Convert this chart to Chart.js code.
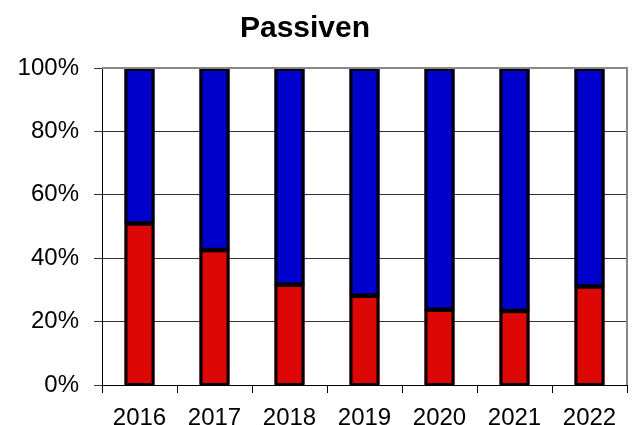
<!DOCTYPE html>
<html>
<head>
<meta charset="utf-8">
<script src="https://cdn.jsdelivr.net/npm/chart.js@4"></script>
<style>
  html, body { margin: 0; padding: 0; background: #fff; }
  #wrap { width: 637px; height: 425px; }
</style>
</head>
<body>
<div id="wrap"><canvas id="passivenChart" width="637" height="425"></canvas></div>
<script>
// Daten (Anteile in %)
const years = ['2016', '2017', '2018', '2019', '2020', '2021', '2022'];
const fremdkapital = [51.2, 42.8, 31.9, 28.4, 24.0, 23.6, 31.3];
const eigenkapital = [48.8, 57.2, 68.1, 71.6, 76.0, 76.4, 68.7];
const yTicks = [0, 20, 40, 60, 80, 100];
const chartTitle = 'Passiven';

const FONT = '"Liberation Sans", Arial, sans-serif';

// Titel, grauer Rahmen oben/rechts und schwarze Balkenkanten
const framePlugin = {
    id: 'frame',
    afterDatasetsDraw(chart) {
        const { ctx } = chart;
        ctx.save();
        ctx.strokeStyle = '#000';
        ctx.lineWidth = 3;
        chart.data.datasets.forEach((ds, i) => {
            chart.getDatasetMeta(i).data.forEach(bar => {
                const w = bar.width;
                const top = Math.min(bar.y, bar.base);
                const h = Math.abs(bar.base - bar.y);
                ctx.strokeRect(bar.x - w / 2 + 1.5, top + 1.5, w - 3, h - 1.5);
            });
        });
        ctx.restore();
    },
    afterDraw(chart) {
        const { ctx, chartArea } = chart;
        ctx.save();
        ctx.strokeStyle = '#888';
        ctx.lineWidth = 2;
        ctx.beginPath();
        ctx.moveTo(chartArea.left, chartArea.top);
        ctx.lineTo(chartArea.right, chartArea.top);
        ctx.lineTo(chartArea.right, chartArea.bottom);
        ctx.stroke();
        ctx.fillStyle = '#000';
        ctx.font = 'bold 30px ' + FONT;
        ctx.textAlign = 'center';
        ctx.textBaseline = 'alphabetic';
        ctx.fillText(chartTitle, 305, 37);
        ctx.restore();
    }
};

const ctx = document.getElementById('passivenChart').getContext('2d');
const passivenChart = new Chart(ctx, {
    type: 'bar',
    data: {
        labels: years,
        datasets: [
            {
                label: 'Fremdkapital',
                data: fremdkapital,
                backgroundColor: '#DD0806',
                borderWidth: 0
            },
            {
                label: 'Eigenkapital',
                data: eigenkapital,
                backgroundColor: '#0000CC',
                borderWidth: 0
            }
        ]
    },
    options: {
        responsive: false,
        animation: false,
        layout: { padding: { left: 0, right: 10, top: 68, bottom: 0 } },
        datasets: { bar: { barPercentage: 0.4, categoryPercentage: 1 } },
        plugins: {
            legend: { display: false },
            title: { display: false },
            tooltip: { enabled: false }
        },
        scales: {
            x: {
                stacked: true,
                afterFit(scale) { scale.height = 40; },
                border: { color: '#000', width: 1 },
                grid: {
                    offset: true,
                    drawOnChartArea: false,
                    tickLength: 8,
                    tickColor: '#000'
                },
                ticks: {
                    color: '#000',
                    padding: 11,
                    font: { family: FONT, size: 24 }
                }
            },
            y: {
                stacked: true,
                min: 0,
                max: 100,
                afterFit(scale) { scale.width = 102; },
                afterBuildTicks(scale) {
                    scale.ticks = yTicks.map(v => ({ value: v }));
                },
                border: { color: '#000', width: 1 },
                grid: {
                    color: ctx => ctx.tick && ctx.tick.value === 100 ? '#888' : '#333',
                    tickLength: 8,
                    tickColor: '#333'
                },
                ticks: {
                    color: '#000',
                    padding: 15,
                    font: { family: FONT, size: 24 },
                    callback: v => v + '%'
                }
            }
        }
    },
    plugins: [framePlugin]
});
</script>
</body>
</html>
